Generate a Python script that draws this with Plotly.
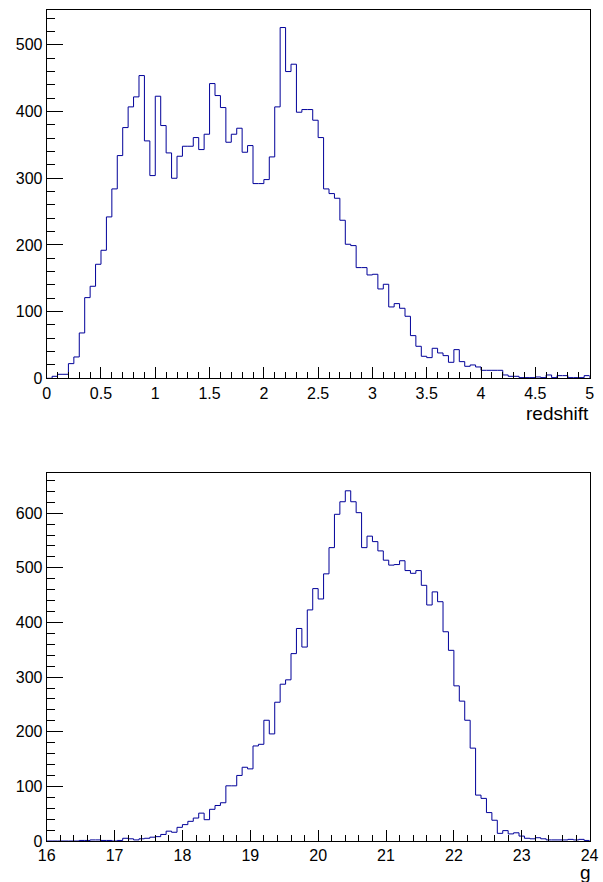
import numpy as np
import plotly.graph_objects as go

# ---- data ----
redshift_range = (0.0, 5.0)
redshift_counts = [0, 3, 6, 6, 22, 32, 68, 121, 138, 171,
                   192, 242, 284, 334, 376, 407, 422, 454, 356, 304,
                   423, 379, 338, 300, 333, 348, 348, 361, 343, 366,
                   442, 424, 406, 354, 366, 375, 339, 349, 292, 292,
                   298, 332, 407, 526, 460, 471, 399, 403, 403, 387,
                   361, 284, 277, 270, 237, 201, 199, 166, 166, 155,
                   156, 134, 141, 107, 112, 105, 93, 64, 48, 33,
                   31, 45, 38, 34, 24, 43, 25, 18, 20, 17,
                   12, 12, 12, 12, 5, 3, 3, 1, 1, 1,
                   2, 1, 5, 1, 4, 4, 1, 1, 1, 4]

g_range = (16.0, 24.0)
g_counts = [0, 0, 0, 0, 0, 0, 1, 1, 2, 2,
            1, 1, 0, 1, 5, 4, 2, 4, 5, 7,
            8, 12, 18, 16, 25, 30, 36, 42, 51, 39,
            58, 65, 70, 101, 101, 120, 135, 132, 174, 177,
            221, 196, 254, 287, 295, 343, 389, 355, 423, 462,
            443, 489, 537, 598, 621, 641, 621, 601, 537, 558,
            548, 531, 514, 505, 506, 513, 495, 490, 495, 468,
            432, 456, 438, 383, 349, 284, 256, 221, 170, 84,
            78, 52, 38, 14, 19, 13, 15, 9, 5, 4,
            6, 4, 2, 2, 2, 2, 3, 2, 3, 1]

redshift_ticks = [0, 0.5, 1, 1.5, 2, 2.5, 3, 3.5, 4, 4.5, 5]
redshift_ticktext = ["0", "0.5", "1", "1.5", "2", "2.5", "3", "3.5", "4", "4.5", "5"]
g_ticks = [16, 17, 18, 19, 20, 21, 22, 23, 24]

LINE_COLOR = "#000099"
FONT = "Liberation Sans, Arial, Helvetica, sans-serif"
W, H = 603, 882


def step_xy(rng, counts):
    edges = np.linspace(rng[0], rng[1], len(counts) + 1)
    ys = [0] + list(counts) + [counts[-1], 0]
    xs = [edges[0]] + list(edges) + [edges[-1]]
    return xs, ys


fig = go.Figure()
xs, ys = step_xy(redshift_range, redshift_counts)
fig.add_trace(go.Scatter(x=xs, y=ys, mode="lines", line=dict(color=LINE_COLOR, width=1, shape="hv"),
                         xaxis="x", yaxis="y", showlegend=False, hoverinfo="skip"))
xs2, ys2 = step_xy(g_range, g_counts)
fig.add_trace(go.Scatter(x=xs2, y=ys2, mode="lines", line=dict(color=LINE_COLOR, width=1, shape="hv"),
                         xaxis="x2", yaxis="y2", showlegend=False, hoverinfo="skip"))

x_dom = [46.7 / W, 589.6 / W]
top_dom = [1 - 378.3 / H, 1 - 10 / H]
bot_dom = [1 - 841 / H, 1 - 473.3 / H]

common_axis = dict(showline=True, linecolor="black", linewidth=1, mirror=True, automargin=False,
                   showgrid=False, zeroline=False, ticks="inside", tickcolor="black",
                   tickwidth=1, tickfont=dict(family=FONT, size=16, color="black"))

fig.update_layout(
    width=W, height=H, margin=dict(l=0, r=0, t=0, b=0, autoexpand=False),
    paper_bgcolor="white", plot_bgcolor="white", showlegend=False,
    xaxis=dict(domain=x_dom, anchor="y", range=list(redshift_range),
               tickvals=redshift_ticks, ticktext=redshift_ticktext, ticklen=11,
               minor=dict(dtick=0.1, ticklen=6, ticks="inside", tickcolor="black", tickwidth=1, showgrid=False),
               **common_axis),
    yaxis=dict(domain=top_dom, anchor="x", range=[0, max(redshift_counts) * 1.05],
               dtick=100, ticklen=16,
               minor=dict(dtick=20, ticklen=8, ticks="inside", tickcolor="black", tickwidth=1, showgrid=False),
               **common_axis),
    xaxis2=dict(domain=x_dom, anchor="y2", range=list(g_range),
                tickvals=g_ticks, ticklen=11,
                minor=dict(dtick=0.2, ticklen=6, ticks="inside", tickcolor="black", tickwidth=1, showgrid=False),
                **common_axis),
    yaxis2=dict(domain=bot_dom, anchor="x2", range=[0, max(g_counts) * 1.05],
                dtick=100, ticklen=16,
                minor=dict(dtick=20, ticklen=8, ticks="inside", tickcolor="black", tickwidth=1, showgrid=False),
                **common_axis),
    annotations=[
        dict(text="redshift", xref="paper", yref="paper", x=591 / W, y=1 - 413 / H,
             xanchor="right", yanchor="middle", showarrow=False,
             font=dict(family=FONT, size=19, color="black")),
        dict(text="g", xref="paper", yref="paper", x=592.5 / W, y=1 - 872 / H,
             xanchor="right", yanchor="middle", showarrow=False,
             font=dict(family=FONT, size=19, color="black")),
    ],
)

fig.write_html("out.html")
